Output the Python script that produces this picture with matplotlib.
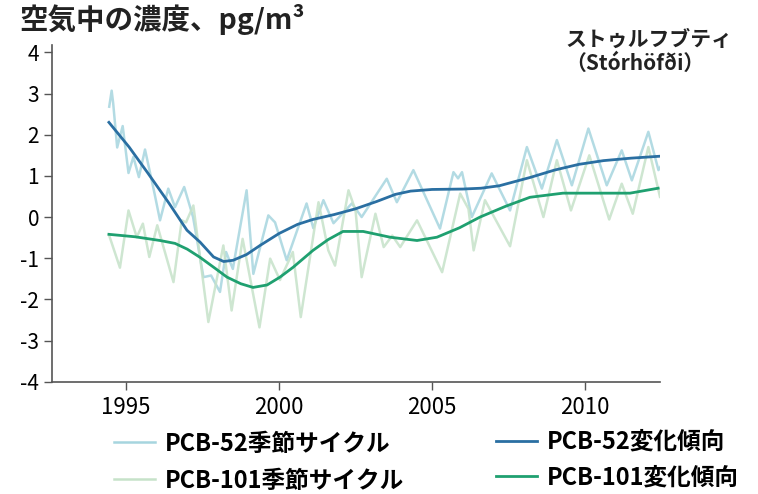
import matplotlib
matplotlib.use("Agg")
import matplotlib.pyplot as plt
from matplotlib.lines import Line2D

plt.rcParams['font.family'] = ['Noto Sans CJK JP', 'DejaVu Sans']

# PCB-52 seasonal cycle (year, value)
pcb52_season_years = [1994.45, 1994.53, 1994.58, 1994.71, 1994.89, 1995.08, 1995.24, 1995.42,
                      1995.62, 1995.92, 1996.11, 1996.38, 1996.6, 1996.9, 1997.19, 1997.53,
                      1997.78, 1998.07, 1998.27, 1998.49, 1998.94, 1999.16, 1999.65, 1999.87,
                      2000.25, 2000.9, 2001.12, 2001.45, 2001.78, 2002.38, 2002.7, 2003.52,
                      2003.85, 2004.39, 2005.26, 2005.7, 2005.85, 2005.98, 2006.3, 2006.95,
                      2007.55, 2008.1, 2008.59, 2009.08, 2009.57, 2010.11, 2010.71, 2011.2,
                      2011.53, 2012.07, 2012.4, 2012.5]
pcb52_season_vals = [2.68, 3.07, 2.76, 1.69, 2.21, 1.07, 1.46, 0.97,
                     1.64, 0.61, -0.08, 0.69, 0.24, 0.73, 0.0, -1.46,
                     -1.42, -1.82, -0.85, -1.26, 0.65, -1.38, 0.04, -0.13,
                     -1.05, 0.33, -0.27, 0.41, -0.15, 0.33, 0.0, 0.93,
                     0.36, 1.14, -0.28, 1.09, 0.94, 1.09, 0.0, 1.06,
                     0.16, 1.70, 0.69, 1.87, 0.77, 2.15, 0.77, 1.62,
                     0.89, 2.07, 1.14, 1.26]

# PCB-101 seasonal cycle
pcb101_season_years = [1994.45, 1994.8, 1995.08, 1995.35, 1995.55, 1995.76, 1996.02, 1996.55,
                       1996.82, 1996.96, 1997.2, 1997.69, 1998.18, 1998.45, 1998.81, 1999.36,
                       1999.71, 2000.03, 2000.45, 2000.71, 2001.29, 2001.61, 2001.83, 2002.27,
                       2002.5, 2002.7, 2003.15, 2003.42, 2003.7, 2003.96, 2004.51, 2005.33,
                       2005.92, 2006.19, 2006.36, 2006.73, 2007.55, 2008.1, 2008.64, 2009.08,
                       2009.54, 2010.14, 2010.79, 2011.2, 2011.56, 2012.07, 2012.45]
pcb101_season_vals = [-0.45, -1.23, 0.16, -0.49, -0.16, -0.97, -0.20, -1.58,
                      -0.08, -0.13, 0.28, -2.55, -0.69, -2.27, -0.53, -2.68,
                      -1.01, -1.53, -0.85, -2.43, 0.36, -0.81, -1.18, 0.65,
                      0.16, -1.46, 0.08, -0.73, -0.45, -0.73, -0.08, -1.34,
                      0.57, 0.20, -0.81, 0.41, -0.71, 1.38, 0.0, 1.38,
                      0.16, 1.50, -0.06, 0.81, 0.08, 1.70, 0.49]

# PCB-52 trend
pcb52_trend_years = [1994.44, 1995.1, 1995.72, 1996.4, 1996.99, 1997.42, 1997.86, 1998.19,
                     1998.5, 1998.94, 1999.38, 2000.0, 2000.6, 2001.1, 2001.8, 2002.5,
                     2003.2, 2003.8, 2004.3, 2005.0, 2006.0, 2006.6, 2007.2, 2008.2,
                     2009.0, 2009.8, 2010.6, 2011.5, 2012.5]
pcb52_trend_vals = [2.30, 1.70, 1.06, 0.34, -0.32, -0.61, -0.97, -1.08,
                    -1.05, -0.91, -0.69, -0.40, -0.18, -0.06, 0.06, 0.20,
                    0.38, 0.55, 0.63, 0.67, 0.68, 0.70, 0.76, 0.96,
                    1.14, 1.28, 1.37, 1.43, 1.48]

# PCB-101 trend
pcb101_trend_years = [1994.44, 1995.3, 1996.11, 1996.6, 1997.0, 1997.42, 1997.9, 1998.3,
                      1998.75, 1999.15, 1999.61, 2000.03, 2000.46, 2001.11, 2001.6, 2002.09,
                      2002.75, 2003.63, 2004.51, 2005.16, 2005.9, 2006.57, 2007.4, 2008.2,
                      2009.28, 2010.4, 2011.47, 2012.39]
pcb101_trend_vals = [-0.42, -0.48, -0.57, -0.64, -0.78, -0.98, -1.24, -1.46,
                     -1.62, -1.71, -1.65, -1.46, -1.22, -0.81, -0.55, -0.35,
                     -0.35, -0.49, -0.57, -0.49, -0.26, 0.0, 0.26, 0.48,
                     0.58, 0.58, 0.58, 0.70]

year_ticks = [1995, 2000, 2005, 2010]
val_ticks = [4, 3, 2, 1, 0, -1, -2, -3, -4]

c52_season = "#a6d5df"
c101_season = "#c6e2c9"
c52_trend = "#2a6fa2"
c101_trend = "#1fa070"

fig = plt.figure(figsize=(7.58, 4.94), dpi=100)
ax = fig.add_axes([0.0682, 0.2273, 0.8025, 0.6817])

ax.plot(pcb52_season_years, pcb52_season_vals, color=c52_season, lw=1.8, alpha=0.85,
        solid_joinstyle='round')
ax.plot(pcb101_season_years, pcb101_season_vals, color=c101_season, lw=1.8, alpha=0.85,
        solid_joinstyle='round')
ax.plot(pcb52_trend_years, pcb52_trend_vals, color=c52_trend, lw=2.0, solid_joinstyle='round')
ax.plot(pcb101_trend_years, pcb101_trend_vals, color=c101_trend, lw=2.0, solid_joinstyle='round')

ax.set_xlim(1992.57, 2012.45)
ax.set_ylim(-4, 4.18)
ax.set_xticks(year_ticks)
ax.set_yticks(val_ticks)
ax.set_yticklabels([str(v) for v in val_ticks])
ax.tick_params(axis='x', labelsize=16, length=6, width=1, color="#555555", pad=4)
ax.tick_params(axis='y', labelsize=15, length=6, width=1, color="#555555", pad=3)
for side in ['top', 'right']:
    ax.spines[side].set_visible(False)
for side in ['left', 'bottom']:
    ax.spines[side].set_color("#555555")
    ax.spines[side].set_linewidth(1.2)

fig.text(0.026, 0.960, "空気中の濃度、pg/m³", fontsize=20.5, fontweight='bold',
         ha='left', va='center', color="#222222")
fig.text(0.746, 0.896, "ストゥルフブティ\n（Stórhöfði）", fontsize=15, fontweight='bold',
         ha='left', va='center', color="#222222", linespacing=1.2)

left_handles = [Line2D([], [], color=c52_season, lw=1.8),
                Line2D([], [], color=c101_season, lw=1.8)]
right_handles = [Line2D([], [], color=c52_trend, lw=2.0),
                 Line2D([], [], color=c101_trend, lw=2.0)]
leg_kw = dict(frameon=False, borderpad=0, borderaxespad=0, handlelength=1.75,
              handletextpad=0.4, prop={'size': 17, 'weight': 'bold'})
fig.legend(left_handles, ["PCB-52季節サイクル", "PCB-101季節サイクル"],
           loc='upper left', bbox_to_anchor=(0.150, 0.126), labelspacing=0.55, **leg_kw)
fig.legend(right_handles, ["PCB-52変化傾向", "PCB-101変化傾向"],
           loc='upper left', bbox_to_anchor=(0.654, 0.130), labelspacing=0.48, **leg_kw)

fig.savefig("out.png", dpi=100)
